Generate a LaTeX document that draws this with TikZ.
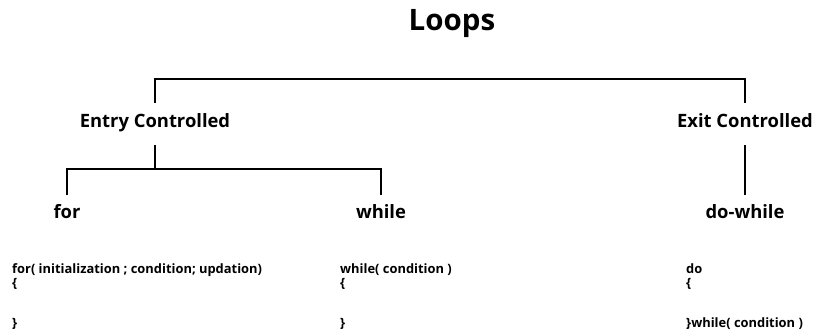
\documentclass[tikz,border=0pt]{standalone}
\usepackage{fontspec}
\setmainfont{Open Sans}
\begin{document}
\begin{tikzpicture}[x=1pt,y=-1pt,
  lbl/.style={font=\bfseries\fontsize{18.4}{20}\selectfont, inner sep=0pt, anchor=base},
  code/.style={font=\bfseries\fontsize{12.9}{14}\selectfont, inner sep=0pt, anchor=base west},
  conn/.style={line width=1.8pt}]
\useasboundingbox (0,0) rectangle (814,333);
\node[font=\bfseries\fontsize{29.5}{32}\selectfont, inner sep=0pt, anchor=base] (loops) at (452,30) {Loops};
\node[lbl] (entry) at (155,127) {Entry Controlled};
\node[lbl] (exit) at (745,127) {Exit Controlled};
\node[lbl] (for) at (67,218) {for};
\node[lbl] (while) at (381,218) {while};
\node[lbl] (dowhile) at (745,218) {do-while};
\coordinate (top) at (155,79);
\coordinate (mid) at (155,169);
% connectors
\draw[conn] (entry.north |- 0,103) -- (top) -- (top -| exit) -- (exit.north |- 0,103);
\draw[conn] (entry.south |- 0,145) -- (mid);
\draw[conn] (for.north |- 0,195) -- (for |- mid) -- (while |- mid) -- (while.north |- 0,195);
\draw[conn] (exit.south |- 0,145) -- (dowhile.north |- 0,195);
% code
\node[code] (c1) at (12,273) {for( initialization ; condition; updation)};
\node[code] (c2) at (12,287) {\{};
\node[code] (c3) at (12,327) {\}};
\node[code] (w1) at (340,273) {while( condition )};
\node[code] (w2) at (340,287) {\{};
\node[code] (w3) at (340,327) {\}};
\node[code] (d1) at (686,273) {do};
\node[code] (d2) at (686,287) {\{};
\node[code] (d3) at (686,327) {\}while( condition )};
\end{tikzpicture}
\end{document}
